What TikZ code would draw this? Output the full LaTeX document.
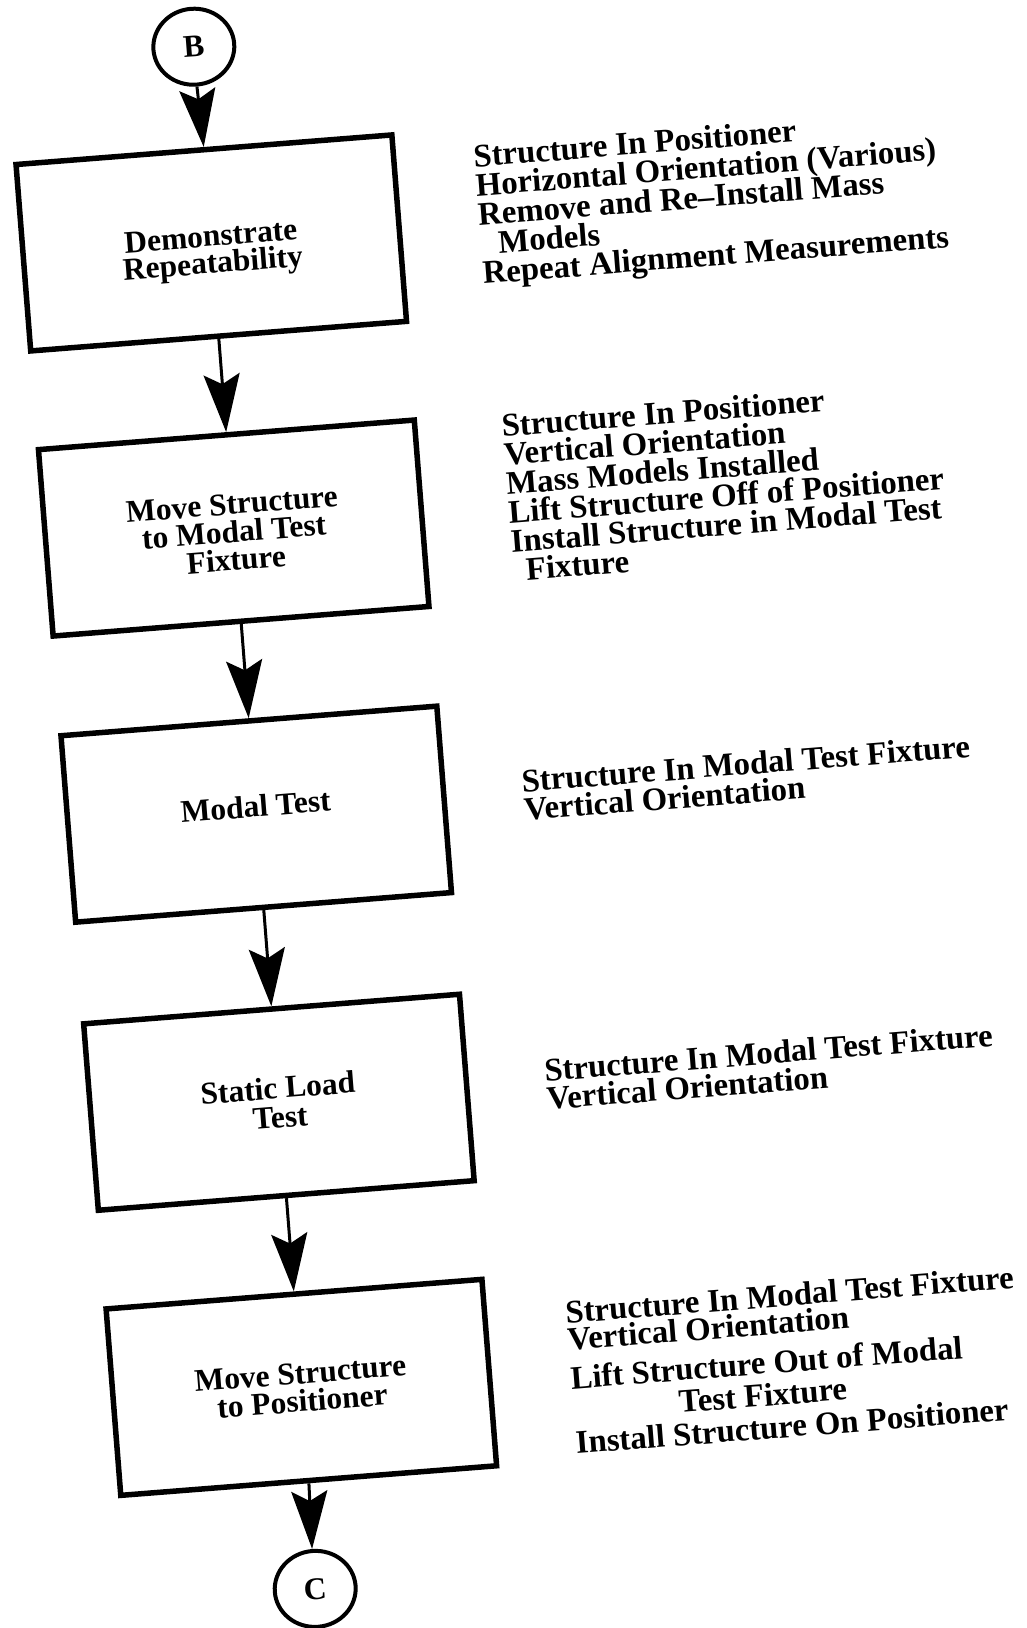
\documentclass[tikz,border=0pt]{standalone}
\usepackage{fontspec}
\setmainfont{Liberation Serif}
\usetikzlibrary{arrows.meta,shapes.geometric}
\newcommand{\blines}[2]{\vtop{\baselineskip=#1\lineskiplimit=-100pt\lineskip=0pt #2}}
\newcommand{\clines}[2]{\vbox{\baselineskip=#1\lineskiplimit=-100pt\lineskip=0pt\halign{\hfil##\hfil\cr #2\cr}}}
% lower content by half of #1 (positive) inside a centred node
\newcommand{\lowr}[2]{\raisebox{0pt}[\dimexpr\height+#1\relax][\depth]{#2}}
\newcommand{\upr}[2]{\raisebox{0pt}[\height][\dimexpr\depth+#1\relax]{#2}}
\begin{document}
\begin{tikzpicture}[x=1pt,y=-1pt,
  box/.style={draw, line width=5.5pt, minimum width=377pt, minimum height=187pt,
    font=\fontsize{31.5}{28}\selectfont\bfseries, inner sep=0pt},
  conn/.style={draw, ellipse, line width=4pt, minimum width=81pt, minimum height=76pt, inner sep=0pt,
    font=\fontsize{31.5}{28}\selectfont\bfseries},
  note/.style={anchor=base west, inner sep=0pt, font=\fontsize{32.8}{26}\selectfont\bfseries},
  flow/.style={line width=3pt, -{Stealth[length=58pt,width=36pt,inset=10pt]}}
]
\fill[white] (0,0) rectangle (1027,1628);
\useasboundingbox (0,0) rectangle (1027,1628);
\begin{scope}[rotate around={4.5:(513,814)}, transform shape]
\node[conn] (B) at (255,24) {B};
\node[box] (b1) at (257,221) {\lowr{20pt}{\clines{27pt}{Demonstrate\cr Repeatability}}};
\node[box] (b2) at (257,507) {\lowr{8pt}{\clines{28pt}{Move Structure\cr to Modal Test\cr Fixture}}};
\node[box] (b3) at (257,794) {\upr{16pt}{Modal Test}};
\node[box] (b4) at (257,1083) {\clines{29pt}{Static Load\cr Test}};
\node[box] (b5) at (257,1369) {\clines{28pt}{Move Structure\cr to Positioner}};
\node[conn] (C) at (255,1571) {C};

\draw[flow] (B.south) -- (b1.north);
\draw[flow] (b1.south) -- (b2.north);
\draw[flow] (b2.south) -- (b3.north);
\draw[flow] (b3.south) -- (b4.north);
\draw[flow] (b4.south) -- (b5.north);
\draw[flow] (b5.south) -- (C.north);

\node[note] (t1) at (525,166) {\blines{29.3pt}{\hbox{Structure In Positioner}\hbox{Horizontal Orientation (Various)}\hbox{Remove and Re–Install Mass}\hbox{\hskip18pt Models}\hbox{Repeat Alignment Measurements}}};
\node[note] (t2) at (532,437) {\blines{29pt}{\hbox{Structure In Positioner}\hbox{Vertical Orientation}\hbox{Mass Models Installed}\hbox{Lift Structure Off of Positioner}\hbox{Install Structure in Modal Test}\hbox{\hskip13pt Fixture}}};
\node[note] (t3) at (524,793) {\blines{28.5pt}{\hbox{Structure In Modal Test Fixture}\hbox{Vertical Orientation}}};
\node[note] (t4) at (524,1083) {\blines{28.5pt}{\hbox{Structure In Modal Test Fixture}\hbox{Vertical Orientation}}};
\node[note] (t5) at (526,1326) {\blines{27pt}{\hbox{Structure In Modal Test Fixture}\hbox{Vertical Orientation}\vskip12pt\hbox{Lift Structure Out of Modal}\vskip5pt\hbox{\hskip106pt Test Fixture}\vskip6pt\hbox{Install Structure On Positioner}}};
\end{scope}
\end{tikzpicture}
\end{document}
